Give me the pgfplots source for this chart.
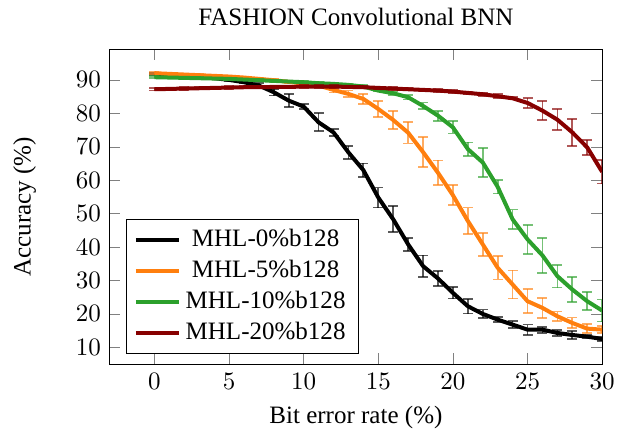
\documentclass[border=0pt]{standalone}
\usepackage{fontspec}
\setmainfont{Liberation Serif}
\usepackage{pgfplots}
\pgfplotsset{compat=1.18}
\usepackage{pgfplotstable}

\definecolor{cblack}{RGB}{0,0,0}
\definecolor{corange}{RGB}{255,127,14}
\definecolor{cgreen}{RGB}{44,160,44}
\definecolor{cred}{RGB}{135,0,0}

% x = bit error rate, y = accuracy, e = std
\pgfplotstableread{
x y e
0 91.8 0.3
1 91.5 0.3
2 91.2 0.3
3 90.9 0.3
4 90.5 0.3
5 90.0 0.3
6 89.3 0.4
7 88.3 0.8
8 86.3 1.0
9 83.8 1.9
10 82.0 0.8
11 77.3 2.7
12 74.3 1.0
13 68.3 2.0
14 63.0 2.0
15 54.8 3.0
16 48.3 3.9
17 40.8 2.0
18 34.3 3.2
19 30.6 2.2
20 26.3 1.7
21 22.3 2.2
22 20.0 1.3
23 18.3 0.7
24 16.8 1.1
25 15.3 1.5
26 15.3 0.9
27 14.3 0.8
28 13.7 1.1
29 13.2 0.5
30 12.5 0.5
}\tblack

\pgfplotstableread{
x y e
0 92.0 0.3
1 91.8 0.3
2 91.6 0.3
3 91.4 0.3
4 91.2 0.3
5 91.0 0.3
6 90.7 0.3
7 90.3 0.3
8 89.9 0.4
9 89.4 0.4
10 88.9 0.5
11 88.3 0.6
12 87.0 0.8
13 85.8 1.0
14 84.3 1.5
15 81.3 2.3
16 78.0 2.8
17 74.2 3.2
18 68.4 4.5
19 62.2 3.7
20 55.5 3.0
21 47.8 4.0
22 40.8 3.4
23 33.8 3.5
24 28.8 4.2
25 23.8 3.6
26 21.8 3.0
27 19.3 1.4
28 17.3 1.6
29 15.6 1.4
30 15.3 1.0
}\torange

\pgfplotstableread{
x y e
0 90.8 0.3
1 90.7 0.3
2 90.6 0.3
3 90.5 0.3
4 90.4 0.3
5 90.3 0.3
6 90.1 0.3
7 89.9 0.3
8 89.7 0.3
9 89.5 0.3
10 89.3 0.3
11 89.0 0.3
12 88.8 0.3
13 88.5 0.4
14 88.0 0.4
15 86.8 0.3
16 86.0 0.5
17 84.8 0.7
18 82.2 1.0
19 79.3 1.5
20 75.8 1.8
21 69.3 2.0
22 65.3 4.3
23 58.0 2.0
24 48.3 2.9
25 42.3 4.3
26 37.5 5.3
27 31.3 3.4
28 27.3 3.8
29 23.8 2.7
30 21.0 3.3
}\tgreen

\pgfplotstableread{
x y e
0 87.2 0.4
1 87.3 0.4
2 87.4 0.4
3 87.5 0.4
4 87.6 0.4
5 87.7 0.4
6 87.8 0.4
7 87.8 0.4
8 87.9 0.4
9 87.9 0.4
10 88.0 0.4
11 88.0 0.4
12 88.0 0.4
13 87.9 0.4
14 87.8 0.4
15 87.6 0.4
16 87.4 0.4
17 87.2 0.4
18 87.0 0.4
19 86.8 0.4
20 86.5 0.4
21 86.1 0.4
22 85.7 0.5
23 85.1 0.6
24 84.5 0.4
25 83.1 1.4
26 80.8 2.8
27 78.1 3.1
28 74.3 4.0
29 69.8 2.2
30 62.5 3.5
}\tred

\pgfplotsset{
  bnn/.style={color=#1, line width=1.6pt, mark=none,
    error bars/.cd, y dir=both, y explicit,
    error bar style={line width=0.7pt, opacity=0.65},
    error mark options={rotate=90, mark size=2pt, line width=0.7pt, opacity=0.65}},
}

\begin{document}
\begin{tikzpicture}
\begin{axis}[
  scale only axis, width=196.8pt, height=125.6pt,
  xmin=-3, xmax=30, ymin=5, ymax=99,
  xtick={0,5,...,30}, ytick={10,20,...,90},
  title={FASHION Convolutional BNN},
  xlabel={Bit error rate (\%)}, ylabel={Accuracy (\%)},
  ylabel shift=9pt,
  legend style={at={(0.033,0.032)}, anchor=south west},
]
\addplot[bnn=cblack] table[x=x, y=y, y error=e] {\tblack};
\addplot[bnn=corange] table[x=x, y=y, y error=e] {\torange};
\addplot[bnn=cgreen] table[x=x, y=y, y error=e] {\tgreen};
\addplot[bnn=cred] table[x=x, y=y, y error=e] {\tred};
\legend{MHL-0\%b128, MHL-5\%b128, MHL-10\%b128, MHL-20\%b128}
\end{axis}
% a little blank room left of the y label
\path ([xshift=-2pt]current bounding box.west);
\end{tikzpicture}
\end{document}
